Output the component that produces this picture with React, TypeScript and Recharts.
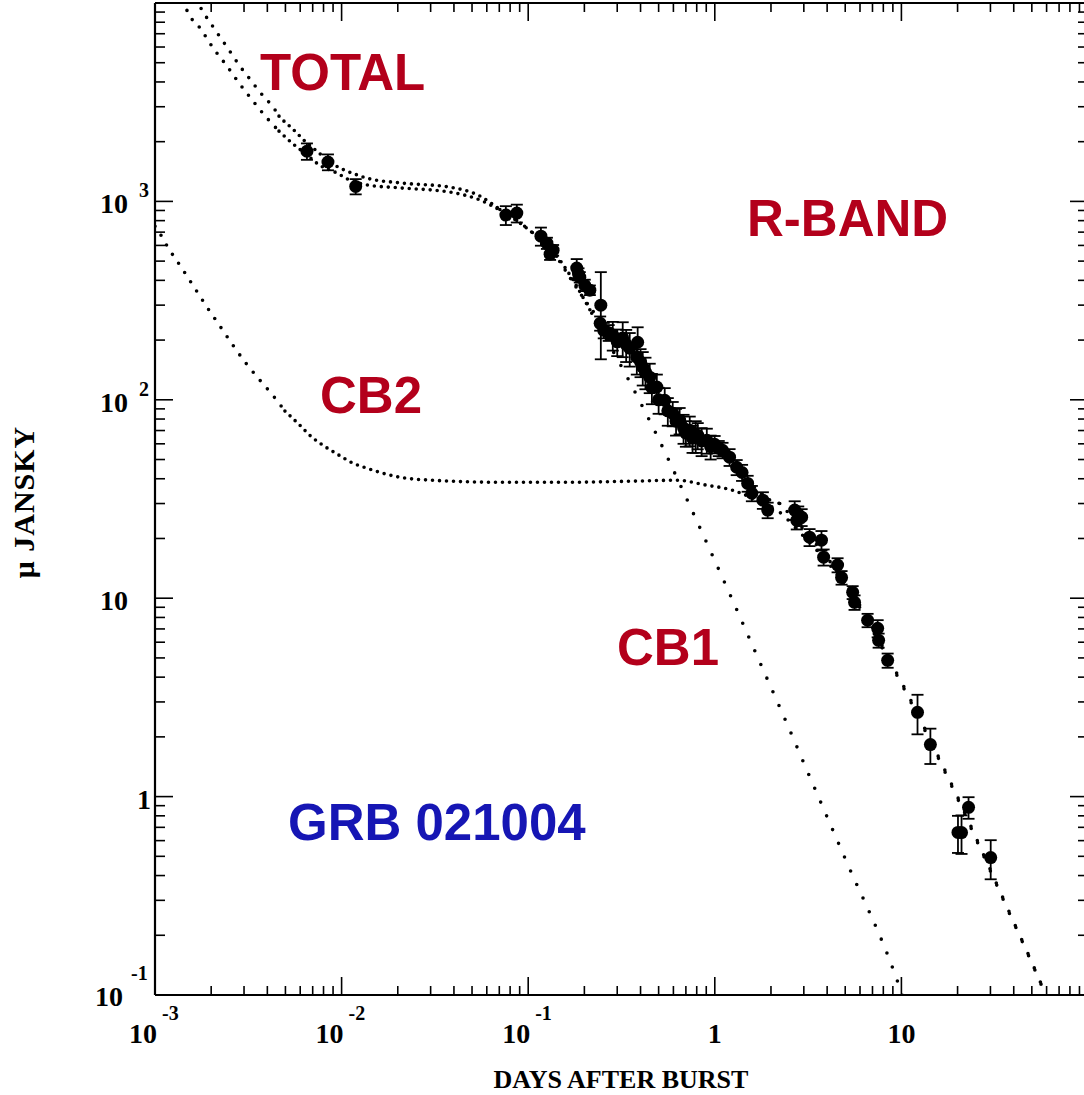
import React from 'react';
import { ComposedChart, Line, Scatter, XAxis, YAxis, ErrorBar, ReferenceLine } from 'recharts';

// ---- observed R-band data (days, microJansky, error) ----
const obsT = [0.00652, 0.00845, 0.0119, 0.0759, 0.0869, 0.117, 0.126, 0.131, 0.136, 0.182, 0.186, 0.189, 0.201, 0.214, 0.245, 0.243, 0.254, 0.27, 0.284, 0.30, 0.321, 0.335, 0.35, 0.386, 0.382, 0.40, 0.411, 0.425, 0.448, 0.46, 0.489, 0.50, 0.539, 0.56, 0.595, 0.62, 0.648, 0.68, 0.70, 0.734, 0.76, 0.79, 0.81, 0.85, 0.906, 0.95, 0.998, 1.05, 1.10, 1.20, 1.31, 1.40, 1.50, 1.58, 1.81, 1.92, 2.68, 2.75, 2.80, 2.92, 3.22, 3.73, 3.83, 4.55, 4.78, 5.48, 5.61, 6.59, 7.46, 7.55, 8.44, 12.2, 14.3, 20.1, 21.0, 22.9, 30.1];
const obsF = [1790, 1580, 1190, 853, 873, 668, 616, 542, 568, 461, 430, 415, 378, 357, 300, 243, 224, 218, 212, 196, 205, 190, 182, 195, 164, 155, 146, 138, 130, 115, 116, 100, 99.5, 88, 85.5, 78, 78.9, 72, 68, 70.3, 64, 66, 66.3, 62, 62.5, 58, 59.7, 57, 55.7, 51.4, 45.7, 43, 37.9, 33.8, 31.2, 27.8, 27.8, 24.7, 26.5, 25.6, 20.3, 19.6, 16.1, 14.7, 12.7, 10.7, 9.53, 7.74, 7.05, 6.13, 4.86, 2.66, 1.83, 0.66, 0.659, 0.883, 0.493];
const obsErr = [170, 145, 105, 93, 90, 70, 40, 35, 35, 51, 30, 25, 25, 20, 140, 20, 20, 20, 35, 30, 41, 35, 35, 37, 30, 25, 28, 25, 22, 20, 18, 15, 15, 14, 12, 12, 12, 12, 10, 12, 10, 12, 10, 10, 9, 8, 6, 5, 5, 5, 4, 4, 3.5, 3, 3, 2.5, 3, 2.5, 2.5, 2.5, 2, 2.2, 1.5, 1.2, 1.0, 0.8, 0.8, 0.6, 0.7, 0.5, 0.4, 0.6, 0.37, 0.14, 0.145, 0.11, 0.11];

// ---- model curves ----
const totT = [0.00168, 0.00176, 0.0019, 0.00205, 0.00223, 0.00243, 0.00262, 0.00282, 0.00307, 0.00335, 0.00361, 0.00394, 0.00429, 0.00462, 0.00497, 0.00542, 0.0059, 0.00644, 0.00702, 0.00765, 0.00865, 0.01016, 0.0121, 0.01367, 0.0205, 0.038, 0.0551, 0.0705, 0.0982, 0.142, 0.171, 0.219, 0.30, 0.40, 0.50, 0.60, 0.70, 0.80, 0.906, 1.0, 1.2, 1.5, 1.8, 2.228, 2.853, 4.28, 5.97, 8.13, 11.19, 15.44, 19.77, 27.2, 37.5, 51.7, 60];
const totF = [10500, 9440, 8400, 7570, 6740, 6000, 5400, 4870, 4390, 3950, 3600, 3280, 2990, 2690, 2510, 2340, 2160, 1990, 1860, 1740, 1580, 1450, 1360, 1310, 1240, 1180, 1064, 910, 735, 524, 400, 285, 205, 152, 110, 88, 75, 67, 62, 58.5, 51, 40, 33, 30, 23.3, 14.7, 9.25, 5.45, 3.08, 1.66, 1.02, 0.525, 0.267, 0.136, 0.098];

const cb1T = [0.00142, 0.00148, 0.00176, 0.00205, 0.00243, 0.00282, 0.00335, 0.00394, 0.00462, 0.00542, 0.00644, 0.00765, 0.00944, 0.01107, 0.01367, 0.0205, 0.038, 0.0551, 0.0705, 0.0982, 0.1476, 0.219, 0.35, 0.489, 0.673, 0.927, 1.294, 1.782, 2.456, 3.104, 5.02, 8.87, 10.2];
const cb1F = [10300, 9230, 7390, 5930, 4810, 3950, 3210, 2660, 2260, 1970, 1730, 1520, 1390, 1280, 1210, 1170, 1114, 1016, 904, 733, 506, 273, 123, 66.3, 35.0, 18.1, 9.0, 4.54, 2.29, 1.37, 0.482, 0.141, 0.098];

const cb2T = [0.001, 0.00109, 0.00117, 0.00138, 0.00162, 0.0019, 0.00223, 0.00262, 0.00307, 0.00361, 0.00429, 0.00497, 0.0059, 0.00693, 0.00824, 0.00968, 0.0115, 0.0137, 0.016, 0.0205, 0.0308, 0.0705, 0.161, 0.363, 0.625, 0.906, 1.248, 1.597, 2.228, 2.853, 4.28, 5.97, 8.13, 11.19, 15.44, 19.77, 27.2, 37.5, 51.7, 58];
const cb2F = [750, 662, 589, 467, 370, 293, 235, 188, 153, 127, 105, 87.7, 75.3, 64.8, 57.7, 52.6, 47.9, 45.2, 43.1, 40.7, 39.3, 38.4, 38.4, 38.9, 39.3, 37.1, 35.0, 31.9, 27.1, 21.5, 14.1, 9.0, 5.33, 3.02, 1.63, 1.0, 0.517, 0.264, 0.135, 0.105];

// ---- axes ----
const xMajorTicks = [0.001, 0.01, 0.1, 1, 10, 100];
const xTickBase = ['10', '10', '10', '1', '10', ''];
const xTickExp = ['-3', '-2', '-1', '', '', ''];
const yMajorTicks = [0.1, 1, 10, 100, 1000, 10000];
const yTickBase = ['10', '1', '10', '10', '10', ''];
const yTickExp = ['-1', '', '', '2', '3', ''];
const minorMult = [2, 3, 4, 5, 6, 7, 8, 9];

const withMinors = (majors: number[]) => {
  const out: number[] = [];
  majors.forEach((m, i) => {
    out.push(m);
    if (i < majors.length - 1) minorMult.forEach((k) => out.push(+(m * k).toPrecision(6)));
  });
  return out;
};
const xTicks = withMinors(xMajorTicks);
const yTicks = withMinors(yMajorTicks);

const zip = (t: number[], f: number[]) => t.map((v, i) => ({ t: v, f: f[i] }));
const obsData = obsT.map((v, i) => ({ t: v, f: obsF[i], err: obsErr[i] }));
const totData = zip(totT, totF);
const cb1Data = zip(cb1T, cb1F);
const cb2Data = zip(cb2T, cb2F);

// dotted-curve styling: the original curves are sampled dots, sparser where the curve is steep
// [from t, to t, dot gap in px]
const totStyle: [number, number, number][] = [[0, 0.00462, 10.5], [0.00462, 0.0705, 7], [0.0705, 2.228, 10], [2.228, 5.97, 11], [5.97, 100, 15.5]];
const cb1Style: [number, number, number][] = [[0, 0.00462, 10.5], [0.00462, 0.219, 7], [0.219, 100, 15]];
const cb2Style: [number, number, number][] = [[0, 0.00497, 11], [0.00497, 1.597, 7], [1.597, 5.97, 10.5], [5.97, 100, 15.5]];

const seg = (d: { t: number; f: number }[], a: number, b: number) => d.filter((p) => p.t >= a && p.t <= b);

const W = 1092;
const H = 1095;
const AX = 1;
const MARGIN = { top: 3, right: 4, bottom: 100 - AX, left: 155 - AX };
const PLOT_TOP = MARGIN.top;
const PLOT_RIGHT = W - MARGIN.right;
const PLOT_LEFT = 155;
const PLOT_BOTTOM = H - 100;

const SERIF = '"Liberation Serif", "Times New Roman", Times, serif';
const SANS = '"Liberation Sans", Arial, Helvetica, sans-serif';
const RED = '#b3001b';
const BLUE = '#1616b4';

const findMajor = (arr: number[], v: number) => arr.findIndex((m) => Math.abs(v / m - 1) < 1e-6);

function XTick(props: any) {
  const { x, payload } = props;
  const y = PLOT_BOTTOM;
  const i = findMajor(xMajorTicks, payload.value);
  const len = i >= 0 ? 18 : 9;
  const base = i >= 0 ? xTickBase[i] : '';
  const exp = i >= 0 ? xTickExp[i] : '';
  return (
    <g>
      <line x1={x} y1={y} x2={x} y2={y - len} stroke="#000" strokeWidth={1.6} />
      <line x1={x} y1={PLOT_TOP} x2={x} y2={PLOT_TOP + len} stroke="#000" strokeWidth={1.6} />
      {base !== '' && exp !== '' && (
        <g fontFamily={SERIF} fontWeight="bold" fill="#000">
          <text x={x - 26} y={y + 48} fontSize={28}>{base}</text>
          <text x={x + 7} y={y + 25} fontSize={20}>{exp}</text>
        </g>
      )}
      {base !== '' && exp === '' && (
        <text x={x} y={y + 48} fontSize={28} textAnchor="middle" fontFamily={SERIF} fontWeight="bold" fill="#000">
          {base}
        </text>
      )}
    </g>
  );
}

function YTick(props: any) {
  const { y, payload } = props;
  const x = PLOT_LEFT;
  const i = findMajor(yMajorTicks, payload.value);
  const len = i >= 0 ? 18 : 10;
  const base = i >= 0 ? yTickBase[i] : '';
  const exp = i >= 0 ? yTickExp[i] : '';
  const low = i === 0;
  return (
    <g>
      <line x1={x} y1={y} x2={x + len} y2={y} stroke="#000" strokeWidth={1.6} />
      <line x1={PLOT_RIGHT} y1={y} x2={PLOT_RIGHT - len} y2={y} stroke="#000" strokeWidth={1.6} />
      {base !== '' && (
        <g fontFamily={SERIF} fontWeight="bold" fill="#000">
          {base === '1' ? (
            <text x={x - 4} y={y + 12} fontSize={28} textAnchor="end">{base}</text>
          ) : (
            <text x={low ? x - 60 : x - 55} y={low ? y + 11 : y + 12} fontSize={28}>{base}</text>
          )}
          {exp !== '' && (
            <text x={low ? x - 24 : x - 16} y={low ? y - 15 : y - 4} fontSize={20}>{exp}</text>
          )}
        </g>
      )}
    </g>
  );
}

const Dot = (props: any) => {
  const { cx, cy } = props;
  if (cx == null || cy == null) return null;
  return <circle cx={cx} cy={cy} r={6.5} fill="#000" />;
};

const dottedBase = {
  stroke: '#000',
  strokeWidth: 3.6,
  strokeLinecap: 'round' as const,
  dot: false,
  activeDot: false,
  isAnimationActive: false,
  type: 'monotoneX' as const,
  xAxisId: 'b',
  yAxisId: 'l',
  dataKey: 'f',
};

const renderCurve = (name: string, data: { t: number; f: number }[], style: [number, number, number][]) =>
  style.map(([a, b, gap], k) => (
    <Line key={name + k} {...dottedBase} data={seg(data, a, b)} name={name} strokeDasharray={`0 ${gap}`} />
  ));

export default function App() {
  return (
    <div style={{ position: 'absolute', left: 0, top: 0, width: 1084, height: 1095, overflow: 'hidden', background: '#fff' }}>
      <ComposedChart width={W} height={H} margin={MARGIN}>
        <XAxis
          xAxisId="b"
          dataKey="t"
          type="number"
          scale="log"
          domain={[0.001, 100]}
          allowDataOverflow
          ticks={xTicks}
          interval={0}
          tickSize={0}
          tickMargin={0}
          height={AX}
          axisLine={false}
          tickLine={false}
          tick={(p: any) => <XTick {...p} />}
        />
        <YAxis
          yAxisId="l"
          dataKey="f"
          type="number"
          scale="log"
          domain={[0.1, 10000]}
          allowDataOverflow
          ticks={yTicks}
          interval={0}
          tickSize={0}
          tickMargin={0}
          width={AX}
          axisLine={false}
          tickLine={false}
          tick={(p: any) => <YTick {...p} />}
        />
        <ReferenceLine xAxisId="b" yAxisId="l" y={10000} stroke="#000" strokeWidth={2.2} ifOverflow="visible" />
        <ReferenceLine xAxisId="b" yAxisId="l" y={0.1} stroke="#000" strokeWidth={2.2} ifOverflow="visible" />
        <ReferenceLine xAxisId="b" yAxisId="l" x={0.001} stroke="#000" strokeWidth={2.2} ifOverflow="visible" />
        <ReferenceLine xAxisId="b" yAxisId="l" x={100} stroke="#000" strokeWidth={2.2} ifOverflow="visible" />

        {renderCurve('TOTAL', totData, totStyle)}
        {renderCurve('CB1', cb1Data, cb1Style)}
        {renderCurve('CB2', cb2Data, cb2Style)}

        <Scatter
          xAxisId="b"
          yAxisId="l"
          data={obsData}
          dataKey="f"
          fill="#000"
          shape={<Dot />}
          isAnimationActive={false}
        >
          <ErrorBar dataKey="err" direction="y" width={6} stroke="#000" strokeWidth={1.8} />
        </Scatter>

        <text x={260} y={90} fontFamily={SANS} fontWeight="bold" fontSize={51} fill={RED}>TOTAL</text>
        <text x={747} y={236} fontFamily={SANS} fontWeight="bold" fontSize={51} fill={RED}>R-BAND</text>
        <text x={320} y={413} fontFamily={SANS} fontWeight="bold" fontSize={51} fill={RED}>CB2</text>
        <text x={617} y={665} fontFamily={SANS} fontWeight="bold" fontSize={51} fill={RED}>CB1</text>
        <text x={288} y={840} fontFamily={SANS} fontWeight="bold" fontSize={51} fill={BLUE}>GRB 021004</text>

        <text x={621} y={1088} textAnchor="middle" fontFamily={SERIF} fontWeight="bold" fontSize={26} fill="#000">
          DAYS AFTER BURST
        </text>
        <text
          x={34}
          y={502}
          textAnchor="middle"
          transform="rotate(-90, 34, 502)"
          fontFamily={SERIF}
          fontWeight="bold"
          fontSize={30}
          letterSpacing={1}
          fill="#000"
        >
          μ JANSKY
        </text>
      </ComposedChart>
    </div>
  );
}
